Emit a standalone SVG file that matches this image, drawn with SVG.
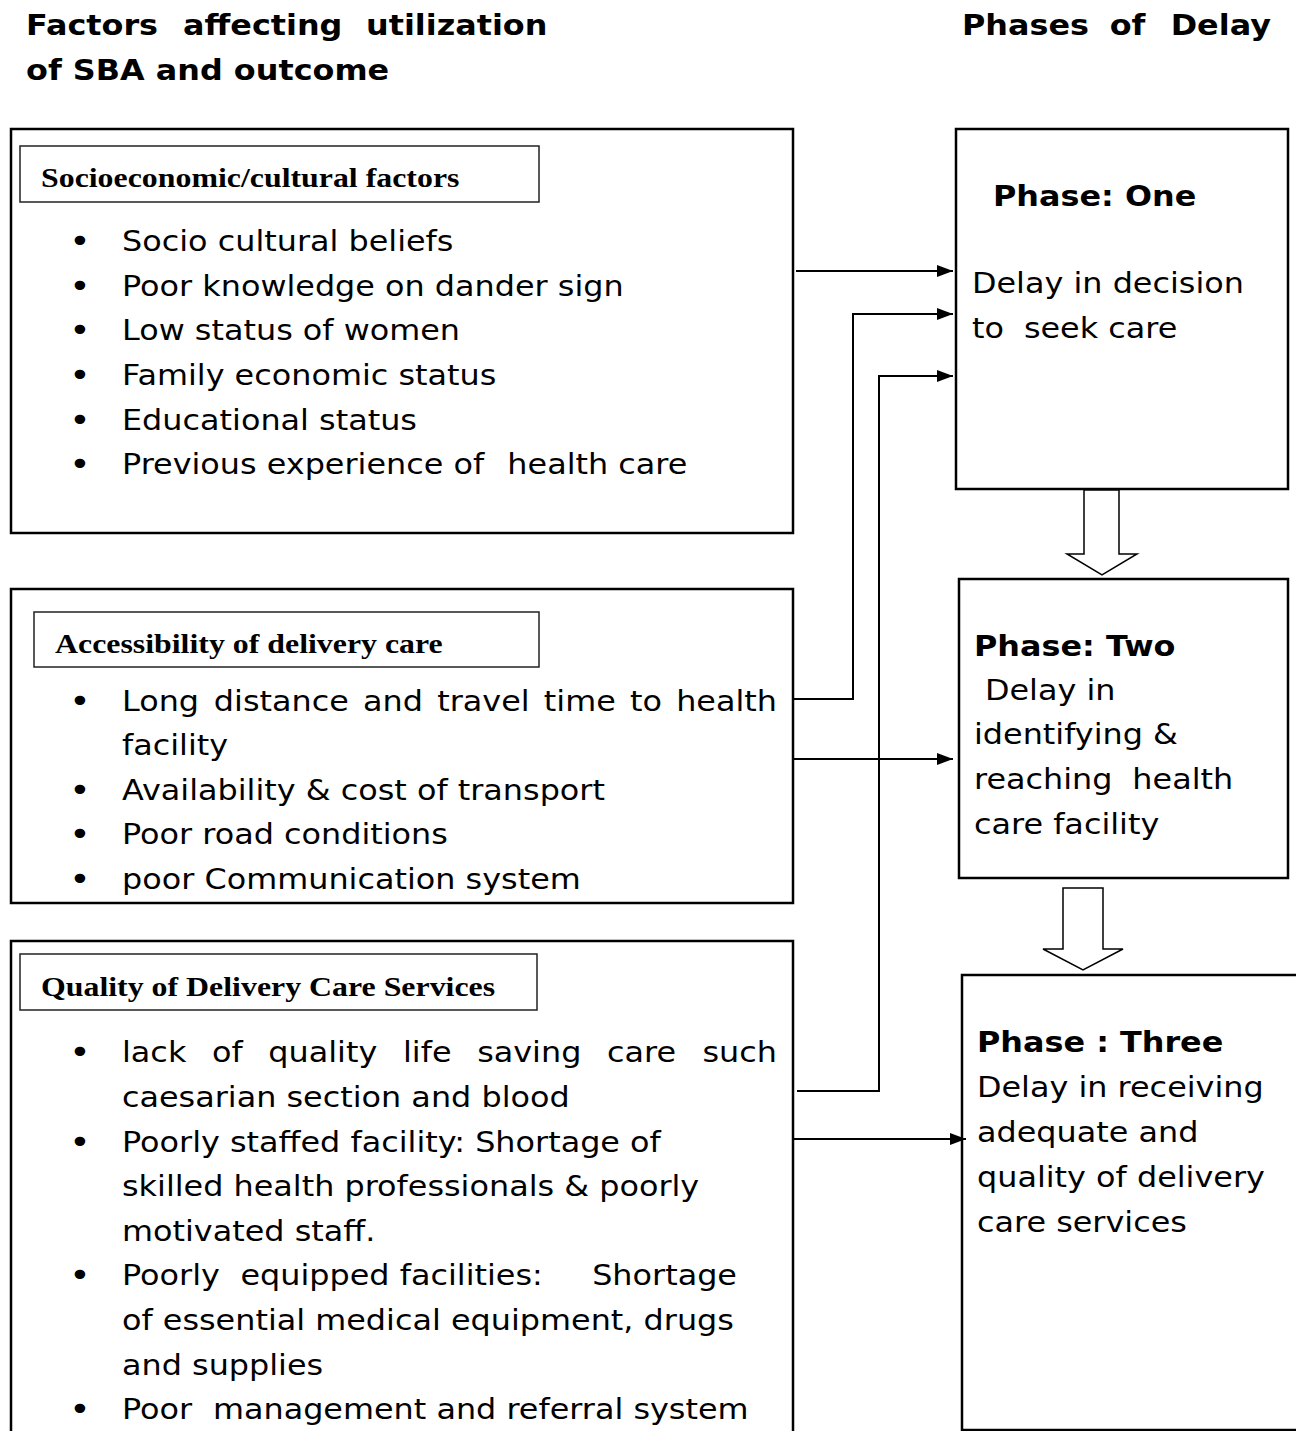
<svg xmlns="http://www.w3.org/2000/svg" width="1296" height="1431" viewBox="0 0 1296 1431">
<style>
.box{fill:none;stroke:#000;stroke-width:2.5}
.sub{fill:none;stroke:#222;stroke-width:1.5}
.t{font-family:"DejaVu Sans",Verdana,sans-serif;font-size:28.2px;fill:#000}
.b{font-weight:bold}
.s{font-family:"Liberation Serif","Times New Roman",serif;font-weight:bold;font-size:28.2px;fill:#000}
.m{text-anchor:middle;font-size:32px}
.e{text-anchor:end}
.conn{fill:none;stroke:#000;stroke-width:2}
.hollow{fill:#fff;stroke:#000;stroke-width:1.5}
</style>
<defs>
<marker id="ah" viewBox="0 0 16 12" refX="16" refY="6" markerWidth="16" markerHeight="12" markerUnits="userSpaceOnUse" orient="auto">
<path d="M0,0 L16,6 L0,12 z" fill="#000"/>
</marker>
</defs>
<rect width="1296" height="1431" fill="#fff"/>

<g id="headings">
<g transform="scale(1.13 1)">
<text class="t b" y="35"><tspan x="23.01">Factors</tspan><tspan x="161.95">affecting</tspan><tspan x="323.89">utilization</tspan></text>
<text class="t b" x="23.01" y="80">of SBA and outcome</text>
<text class="t b" y="35"><tspan x="851.33">Phases</tspan><tspan x="982">of</tspan><tspan x="1036">Delay</tspan></text>
</g>
</g>

<g id="socioeconomic">
<rect class="box" x="11" y="129" width="782" height="404"/>
<rect class="sub" x="20" y="146" width="519" height="56"/>
<g transform="scale(1.13 1)">
<text class="s" x="36.28" y="187">Socioeconomic/cultural factors</text>
<text class="t m" x="70.8" y="252">•</text>
<text class="t" x="107.96" y="251">Socio cultural beliefs</text>
<text class="t m" x="70.8" y="296.7">•</text>
<text class="t" x="107.96" y="295.7">Poor knowledge on dander sign</text>
<text class="t m" x="70.8" y="341.4">•</text>
<text class="t" x="107.96" y="340.4">Low status of women</text>
<text class="t m" x="70.8" y="386.1">•</text>
<text class="t" x="107.96" y="385.1">Family economic status</text>
<text class="t m" x="70.8" y="430.8">•</text>
<text class="t" x="107.96" y="429.8">Educational status</text>
<text class="t m" x="70.8" y="475.5">•</text>
<text class="t" y="474.5"><tspan x="107.96">Previous experience of</tspan><tspan x="449">health care</tspan></text>
</g>
</g>

<g id="accessibility">
<rect class="box" x="11" y="589" width="782" height="314"/>
<rect class="sub" x="34" y="612" width="505" height="55"/>
<g transform="scale(1.13 1)">
<text class="s" x="48.67" y="653">Accessibility of delivery care</text>
<text class="t m" x="70.8" y="712">•</text>
<text class="t" y="711"><tspan x="107.96">Long</tspan><tspan x="189.25">distance</tspan><tspan x="321.3">and</tspan><tspan x="386.92">travel</tspan><tspan x="481.27">time</tspan><tspan x="557.51">to</tspan></text>
<text class="t e" x="687.61" y="711">health</text>
<text class="t" x="107.96" y="755.5">facility</text>
<text class="t m" x="70.8" y="801">•</text>
<text class="t" x="107.96" y="800">Availability &amp; cost of transport</text>
<text class="t m" x="70.8" y="845.5">•</text>
<text class="t" x="107.96" y="844.5">Poor road conditions</text>
<text class="t m" x="70.8" y="890">•</text>
<text class="t" x="107.96" y="889">poor Communication system</text>
</g>
</g>

<g id="quality">
<rect class="box" x="11" y="941" width="782" height="520"/>
<rect class="sub" x="20" y="954" width="517" height="56"/>
<g transform="scale(1.13 1)">
<text class="s" x="36.28" y="996">Quality of Delivery Care Services</text>
<text class="t m" x="70.8" y="1063.5">•</text>
<text class="t" y="1062.5"><tspan x="107.96">lack</tspan><tspan x="187.6">of</tspan><tspan x="237.46">quality</tspan><tspan x="356.64">life</tspan><tspan x="422.26">saving</tspan><tspan x="537.23">care</tspan></text>
<text class="t e" x="687.61" y="1062.5">such</text>
<text class="t" x="107.96" y="1107.1">caesarian section and blood</text>
<text class="t m" x="70.8" y="1152.7">•</text>
<text class="t" x="107.96" y="1151.7">Poorly staffed facility: Shortage of</text>
<text class="t" x="107.96" y="1196.3">skilled health professionals &amp; poorly</text>
<text class="t" x="107.96" y="1240.9">motivated staff.</text>
<text class="t m" x="70.8" y="1286.5">•</text>
<text class="t" y="1285.5"><tspan x="107.96">Poorly</tspan><tspan x="212.8">equipped facilities:</tspan></text>
<text class="t e" x="652.2" y="1285.5">Shortage</text>
<text class="t" x="107.96" y="1330.1">of essential medical equipment, drugs</text>
<text class="t" x="107.96" y="1374.7">and supplies</text>
<text class="t m" x="70.8" y="1420.3">•</text>
<text class="t" y="1419.3"><tspan x="107.96">Poor</tspan><tspan x="188.4">management and referral system</tspan></text>
</g>
</g>

<g id="phase-one">
<rect class="box" x="956" y="129" width="332" height="360"/>
<g transform="scale(1.13 1)">
<text class="t b" x="878.76" y="206">Phase: One</text>
<text class="t" x="860.18" y="293">Delay in decision</text>
<text class="t" y="338"><tspan x="860.18">to</tspan><tspan x="906.1">seek care</tspan></text>
</g>
</g>

<g id="phase-two">
<rect class="box" x="959" y="579" width="329" height="299"/>
<g transform="scale(1.13 1)">
<text class="t b" x="861.95" y="656">Phase: Two</text>
<text class="t" x="871.68" y="700">Delay in</text>
<text class="t" x="861.95" y="744.5">identifying &amp;</text>
<text class="t" y="789"><tspan x="861.95">reaching</tspan><tspan x="1002.1">health</tspan></text>
<text class="t" x="861.95" y="834">care facility</text>
</g>
</g>

<g id="phase-three">
<rect class="box" x="962" y="975" width="400" height="455"/>
<g transform="scale(1.13 1)">
<text class="t b" x="864.6" y="1052">Phase : Three</text>
<text class="t" x="864.6" y="1097">Delay in receiving</text>
<text class="t" x="864.6" y="1142">adequate and</text>
<text class="t" x="864.6" y="1187">quality of delivery</text>
<text class="t" x="864.6" y="1232">care services</text>
</g>
</g>

<g id="connectors">
<path class="conn" d="M796,271 H953" marker-end="url(#ah)"/>
<path class="conn" d="M793,699 H853 V314 H953" marker-end="url(#ah)"/>
<path class="conn" d="M797,1091 H879 V376 H953" marker-end="url(#ah)"/>
<path class="conn" d="M793,759 H953" marker-end="url(#ah)"/>
<path class="conn" d="M793,1139 H966" marker-end="url(#ah)"/>
<polygon class="hollow" points="1084,490 1119,490 1119,554 1137,554 1102,575 1067,554 1084,554"/>
<polygon class="hollow" points="1063,888 1103,888 1103,949 1123,949 1083,970 1043,949 1063,949"/>
</g>
</svg>
